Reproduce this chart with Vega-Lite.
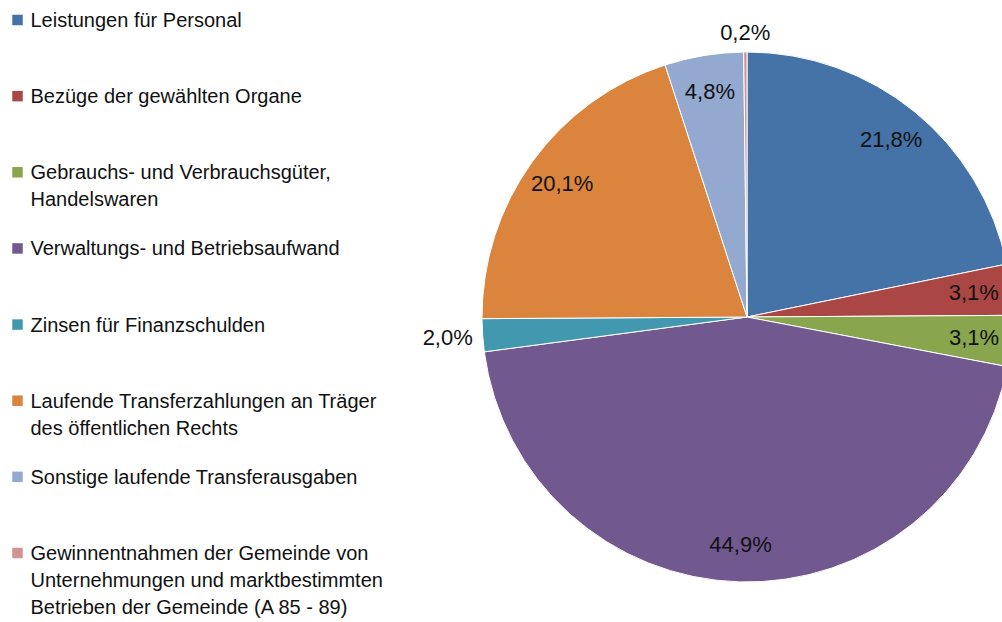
{
  "$schema": "https://vega.github.io/schema/vega-lite/v6.json",
  "padding": {"left": 12, "top": 0, "right": 0, "bottom": 0},
  "config": {
    "view": {"stroke": null},
    "font": "Liberation Sans",
    "locale": {"number": {"decimal": ",", "thousands": ".", "grouping": [3], "currency": ["", " €"]}}
  },
  "data": {
    "values": [
      {"nr": 1, "category": "Leistungen für Personal", "share": 0.218},
      {"nr": 2, "category": "Bezüge der gewählten Organe", "share": 0.031},
      {"nr": 3, "category": "Gebrauchs- und Verbrauchsgüter,\nHandelswaren", "share": 0.031},
      {"nr": 4, "category": "Verwaltungs- und Betriebsaufwand", "share": 0.449},
      {"nr": 5, "category": "Zinsen für Finanzschulden", "share": 0.020},
      {"nr": 6, "category": "Laufende Transferzahlungen an Träger\ndes öffentlichen Rechts", "share": 0.201},
      {"nr": 7, "category": "Sonstige laufende Transferausgaben", "share": 0.048},
      {"nr": 8, "category": "Gewinnentnahmen der Gemeinde von\nUnternehmungen und marktbestimmten\nBetrieben der Gemeinde (A 85 - 89)", "share": 0.002}
    ]
  },
  "spacing": 39,
  "hconcat": [
    {
      "width": 1,
      "height": 573,
      "layer": [
        {
          "mark": {"type": "point", "shape": "square", "filled": true, "size": 110, "opacity": 1},
          "encoding": {
            "y": {"field": "category", "type": "nominal", "sort": null, "scale": {"type": "point", "padding": 0.2627}, "axis": null},
            "color": {
              "field": "category", "type": "nominal", "legend": null,
              "scale": {
                "domain": ["Leistungen für Personal", "Bezüge der gewählten Organe", "Gebrauchs- und Verbrauchsgüter,\nHandelswaren", "Verwaltungs- und Betriebsaufwand", "Zinsen für Finanzschulden", "Laufende Transferzahlungen an Träger\ndes öffentlichen Rechts", "Sonstige laufende Transferausgaben", "Gewinnentnahmen der Gemeinde von\nUnternehmungen und marktbestimmten\nBetrieben der Gemeinde (A 85 - 89)"],
                "range": ["#4572A7", "#AA4643", "#89A54E", "#71588F", "#4198AF", "#DB843D", "#93A9CF", "#D19392"]
              }
            }
          }
        },
        {
          "mark": {"type": "text", "align": "left", "baseline": "alphabetic", "dx": 13, "dy": 7, "fontSize": 20, "lineHeight": 27, "lineBreak": "\n", "color": "#111111"},
          "encoding": {
            "y": {"field": "category", "type": "nominal", "sort": null, "scale": {"type": "point", "padding": 0.2627}, "axis": null},
            "text": {"field": "category"}
          }
        }
      ]
    },
    {
      "width": 540,
      "height": 634,
      "layer": [
        {
          "mark": {"type": "arc", "outerRadius": 265, "stroke": "white", "strokeWidth": 1},
          "encoding": {
            "theta": {"field": "share", "type": "quantitative", "stack": true},
            "order": {"field": "nr", "type": "quantitative"},
            "color": {
              "field": "category", "type": "nominal", "legend": null,
              "scale": {
                "domain": ["Leistungen für Personal", "Bezüge der gewählten Organe", "Gebrauchs- und Verbrauchsgüter,\nHandelswaren", "Verwaltungs- und Betriebsaufwand", "Zinsen für Finanzschulden", "Laufende Transferzahlungen an Träger\ndes öffentlichen Rechts", "Sonstige laufende Transferausgaben", "Gewinnentnahmen der Gemeinde von\nUnternehmungen und marktbestimmten\nBetrieben der Gemeinde (A 85 - 89)"],
                "range": ["#4572A7", "#AA4643", "#89A54E", "#71588F", "#4198AF", "#DB843D", "#93A9CF", "#D19392"]
              }
            }
          }
        },
        {
          "mark": {"type": "text", "fontSize": 22, "color": "#111111", "radius": 228},
          "encoding": {
            "theta": {"field": "share", "type": "quantitative", "stack": true},
            "order": {"field": "nr", "type": "quantitative"},
            "text": {"condition": {"test": "datum.share >= 0.025", "field": "share", "format": ".1%"}, "value": ""}
          }
        },
        {
          "mark": {"type": "text", "fontSize": 22, "color": "#111111", "radius": 300},
          "encoding": {
            "theta": {"field": "share", "type": "quantitative", "stack": true},
            "order": {"field": "nr", "type": "quantitative"},
            "text": {"condition": {"test": "datum.share >= 0.01 && datum.share < 0.025", "field": "share", "format": ".1%"}, "value": ""}
          }
        },
        {
          "mark": {"type": "text", "fontSize": 22, "color": "#111111", "radius": 284},
          "encoding": {
            "theta": {"field": "share", "type": "quantitative", "stack": true},
            "order": {"field": "nr", "type": "quantitative"},
            "text": {"condition": {"test": "datum.share < 0.01", "field": "share", "format": ".1%"}, "value": ""}
          }
        }
      ]
    }
  ]
}
